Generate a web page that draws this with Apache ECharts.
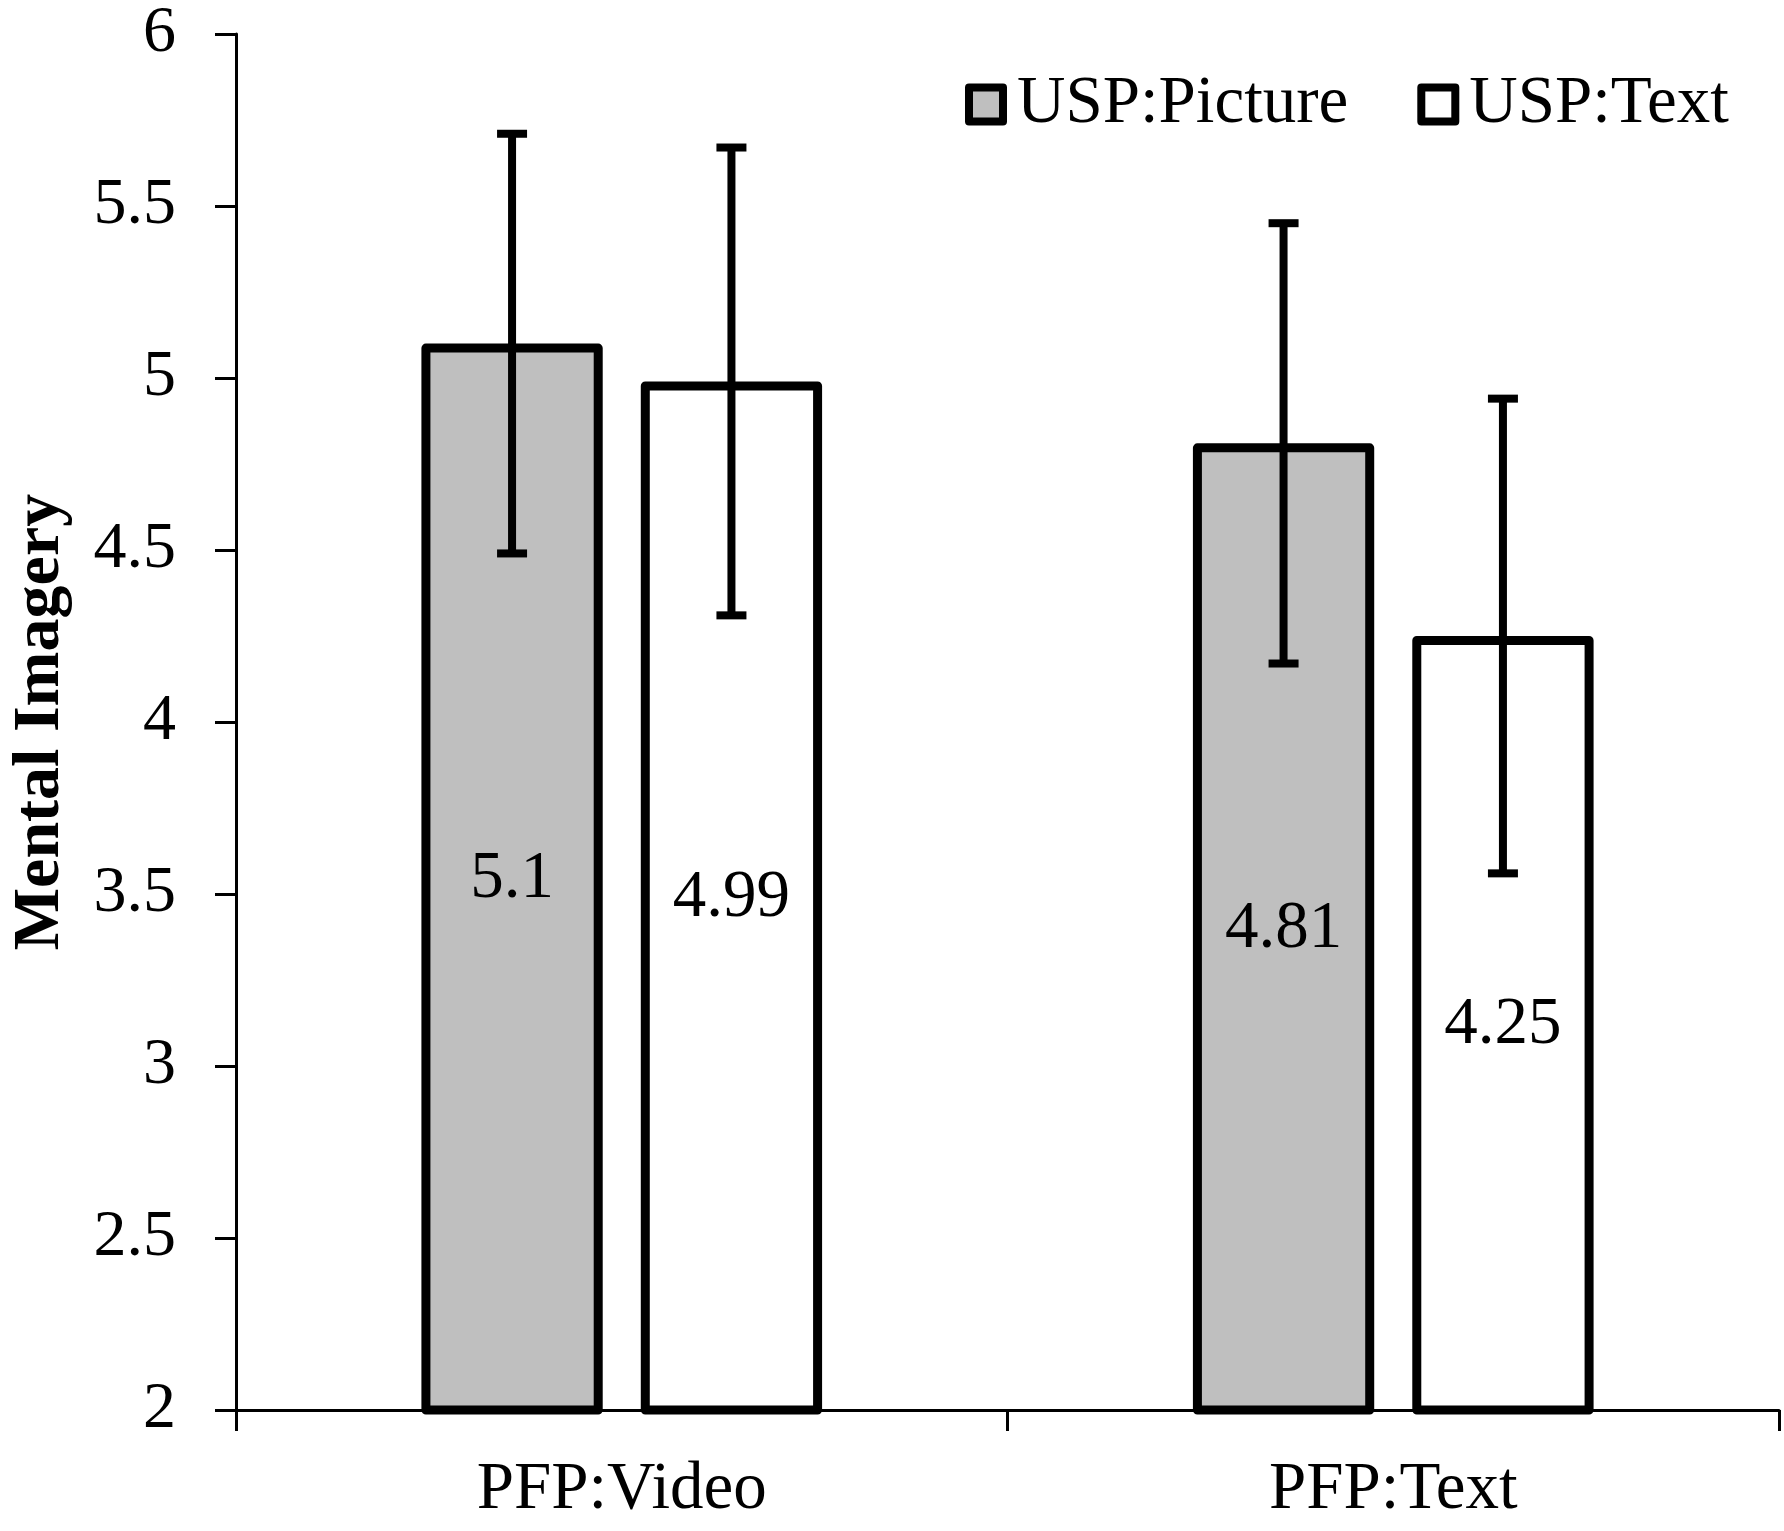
<!DOCTYPE html>
<html>
<head>
<meta charset="utf-8">
<title>Mental Imagery</title>
<script src="https://cdn.jsdelivr.net/npm/echarts@6/dist/echarts.min.js"></script>
<style>
    html, body { margin: 0; padding: 0; background: #fff; }
    #main { width: 1784px; height: 1531px; }
</style>
</head>
<body>
<div id="main"></div>
<script>
// data
var categories = ['PFP:Video', 'PFP:Text'];
var seriesNames = ['USP:Picture', 'USP:Text'];
var pictureMeans = [5.1, 4.81];
var textMeans = [4.99, 4.25];
// error bar ends [low, high]
var pictureErr = [[4.49, 5.71], [4.17, 5.45]];
var textErr = [[4.31, 5.67], [3.56, 4.94]];
var yTicks = { min: 2, max: 6, step: 0.5 };

var fontName = '"Liberation Serif", "Times New Roman", serif';
var barW = 0.235;   // share of a category
var barGapShare = 0.21;
// centre of each bar, from the centre of the category, in category widths
var barShift = (barW + barW * barGapShare) / 2;

function errData(list) {
    var out = [];
    for (var i = 0; i < list.length; i++) {
        out.push([i, list[i][0], list[i][1]]);
    }
    return out;
}

function errRender(shift) {
    return function (params, api) {
        var i = api.value(0);
        var top = api.coord([i, api.value(2)]);
        var bot = api.coord([i, api.value(1)]);
        var x = top[0] + shift * api.size([1, 0])[0];
        var cap = 15;
        var st = { stroke: '#000', lineWidth: 8 };
        return {
            type: 'group',
            children: [
                { type: 'line', shape: { x1: x, y1: top[1], x2: x, y2: bot[1] }, style: st },
                { type: 'line', shape: { x1: x - cap, y1: top[1], x2: x + cap, y2: top[1] }, style: st },
                { type: 'line', shape: { x1: x - cap, y1: bot[1], x2: x + cap, y2: bot[1] }, style: st }
            ]
        };
    };
}

var myChart = echarts.init(document.getElementById('main'));

var barLabel = {
    show: true,
    position: 'inside',
    color: '#000',
    fontFamily: fontName,
    fontSize: 67
};

var option = {
    backgroundColor: '#fff',
    animation: false,
    textStyle: { fontFamily: fontName, color: '#000' },
    grid: { left: 230, right: 5, top: 34, bottom: 121, containLabel: false },
    legend: {
        data: seriesNames,
        left: 965,
        top: 71,
        padding: 0,
        itemWidth: 34,
        itemHeight: 34,
        itemGap: 69,
        icon: 'rect',
        itemStyle: { borderColor: '#000', borderWidth: 8, borderJoin: 'round' },
        textStyle: { fontFamily: fontName, fontSize: 67, color: '#000', padding: [0, 0, 0, 9] },
        selectedMode: false
    },
    xAxis: {
        type: 'category',
        data: categories,
        boundaryGap: true,
        axisLine: { lineStyle: { color: '#000', width: 3 } },
        axisTick: { show: true, length: 21, lineStyle: { color: '#000', width: 3 } },
        axisLabel: { fontFamily: fontName, fontSize: 67, color: '#000', margin: 47 },
        splitLine: { show: false }
    },
    yAxis: {
        type: 'value',
        min: yTicks.min,
        max: yTicks.max,
        interval: yTicks.step,
        name: 'Mental Imagery',
        nameLocation: 'middle',
        nameRotate: 90,
        nameGap: 162,
        nameTextStyle: { fontFamily: fontName, fontSize: 66, fontWeight: 'bold', color: '#000' },
        axisLine: { show: true, lineStyle: { color: '#000', width: 3 } },
        axisTick: { show: true, length: 21, lineStyle: { color: '#000', width: 3 } },
        axisLabel: { fontFamily: fontName, fontSize: 66, color: '#000', margin: 60 },
        splitLine: { show: false }
    },
    series: [
        {
            name: seriesNames[0],
            type: 'bar',
            data: pictureMeans,
            barWidth: (barW * 100) + '%',
            barGap: (barGapShare * 100) + '%',
            itemStyle: { color: '#bfbfbf', borderColor: '#000', borderWidth: 9, borderJoin: 'round' },
            label: barLabel
        },
        {
            name: seriesNames[1],
            type: 'bar',
            data: textMeans,
            barWidth: (barW * 100) + '%',
            barGap: (barGapShare * 100) + '%',
            itemStyle: { color: '#ffffff', borderColor: '#000', borderWidth: 9, borderJoin: 'round' },
            label: barLabel
        },
        {
            type: 'custom',
            name: 'errPicture',
            data: errData(pictureErr),
            encode: { x: 0, y: [1, 2] },
            renderItem: errRender(-barShift),
            z: 10
        },
        {
            type: 'custom',
            name: 'errText',
            data: errData(textErr),
            encode: { x: 0, y: [1, 2] },
            renderItem: errRender(barShift),
            z: 10
        }
    ]
};

myChart.setOption(option);
</script>
</body>
</html>
